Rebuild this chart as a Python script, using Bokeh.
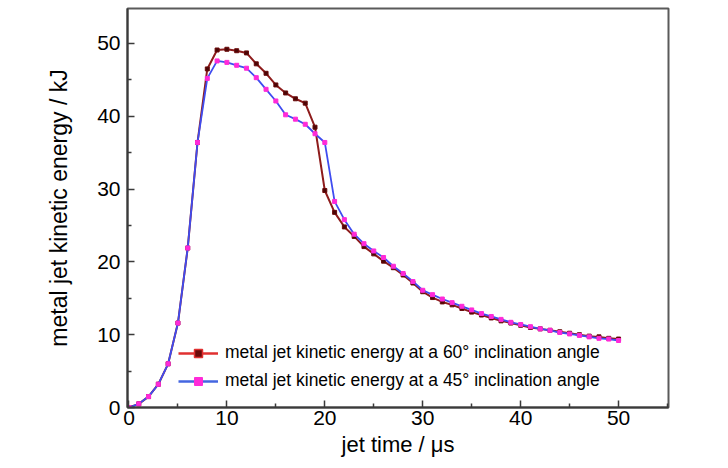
from bokeh.plotting import figure
from bokeh.models import Range1d, Legend, LegendItem, FixedTicker
from bokeh.embed import file_html
from bokeh.resources import INLINE

time_us = list(range(0, 51))
energy_60 = [0.0, 0.5, 1.5, 3.2, 6.0, 11.6, 21.9, 36.4, 46.5, 49.1,
             49.2, 49.0, 48.7, 47.2, 45.9, 44.3, 43.2, 42.4, 41.8, 38.5,
             29.8, 26.8, 24.8, 23.5, 22.1, 21.1, 20.1, 19.2, 18.2, 17.1,
             15.9, 15.1, 14.5, 14.1, 13.6, 13.1, 12.7, 12.3, 11.9, 11.6,
             11.3, 11.0, 10.8, 10.6, 10.4, 10.2, 10.0, 9.8, 9.7, 9.5, 9.4]
energy_45 = [0.0, 0.5, 1.5, 3.2, 6.0, 11.6, 21.9, 36.4, 45.2, 47.6,
             47.4, 47.0, 46.6, 45.3, 43.7, 42.1, 40.2, 39.6, 38.9, 37.6,
             36.4, 28.3, 25.8, 23.8, 22.5, 21.5, 20.6, 19.4, 18.4, 17.3,
             16.1, 15.5, 14.9, 14.4, 13.9, 13.4, 12.9, 12.5, 12.1, 11.7,
             11.4, 11.1, 10.8, 10.6, 10.3, 10.1, 9.9, 9.7, 9.5, 9.4, 9.2]
label_60 = "metal jet kinetic energy at a 60\u00b0 inclination angle"
label_45 = "metal jet kinetic energy at a 45\u00b0 inclination angle"
x_ticks = [0, 10, 20, 30, 40, 50]
y_ticks = [0, 10, 20, 30, 40, 50]

FONT = "Liberation Sans"
NAN = [float("nan")]

p = figure(frame_width=541, frame_height=399, output_backend="svg",
           toolbar_location=None,
           x_range=Range1d(-0.15, 55.1), y_range=Range1d(0, 54.8),
           min_border_left=127, min_border_top=8, min_border_right=52,
           min_border_bottom=53)
p.background_fill_color = "white"
p.border_fill_color = "white"
p.grid.visible = False
p.outline_line_color = "#5a5a5a"
p.outline_line_width = 2

for ax in (p.xaxis[0], p.yaxis[0]):
    ax.major_tick_in = 7
    ax.major_tick_out = 0
    ax.minor_tick_in = 4
    ax.minor_tick_out = 0
    ax.axis_line_color = "#3a3a3a"
    ax.axis_line_width = 2
    ax.major_tick_line_color = "#3a3a3a"
    ax.minor_tick_line_color = "#3a3a3a"
    ax.major_tick_line_width = 1.5
    ax.minor_tick_line_width = 1.5
    ax.major_label_text_font = FONT
    ax.major_label_text_font_size = "21px"
    ax.major_label_text_color = "black"
    ax.axis_label_text_font = FONT
    ax.axis_label_text_font_style = "normal"
    ax.axis_label_text_color = "black"

p.xaxis[0].ticker = FixedTicker(ticks=x_ticks, minor_ticks=[v + 5 for v in x_ticks])
p.yaxis[0].ticker = FixedTicker(ticks=y_ticks, minor_ticks=[v + 5 for v in y_ticks])
p.xaxis[0].axis_label = "jet time / \u03bcs"
p.yaxis[0].axis_label = "metal jet kinetic energy / kJ"
p.xaxis[0].axis_label_text_font_size = "22px"
p.yaxis[0].axis_label_text_font_size = "23px"
p.xaxis[0].major_label_standoff = 3
p.yaxis[0].major_label_standoff = 7
p.xaxis[0].axis_label_standoff = 4
p.yaxis[0].axis_label_standoff = 22

l60 = p.line(time_us, energy_60, line_color="#8e1c1c", line_width=2)
m60 = p.scatter(time_us, energy_60, marker="square", size=4,
                fill_color="#4a0606", line_color="#6a0a0a")
l45 = p.line(time_us, energy_45, line_color="#3f4cf0", line_width=1.8)
m45 = p.scatter(time_us, energy_45, marker="square", size=4,
                fill_color="#ff2ad8", line_color="#ff2ad8")

# legend-only glyph styles (single NaN point: nothing drawn in the plot)
lg60_line = p.line(NAN, NAN, line_color="#e03030", line_width=2.5)
lg60_mark = p.scatter(NAN, NAN, marker="square", size=9,
                      fill_color="#6a0a0a", line_color="#e03030", line_width=1.5)
lg45_line = p.line(NAN, NAN, line_color="#4466e0", line_width=2.5)
lg45_mark = p.scatter(NAN, NAN, marker="square", size=9,
                      fill_color="#ff2ad8", line_color="#ff2ad8")

legend = Legend(items=[LegendItem(label=label_60, renderers=[lg60_line, lg60_mark]),
                       LegendItem(label=label_45, renderers=[lg45_line, lg45_mark])],
                location=(51, 16), padding=0, margin=0, spacing=7,
                glyph_width=40, glyph_height=20, label_height=20,
                label_standoff=7, label_text_font=FONT,
                label_text_font_size="17.5px", label_text_color="black",
                border_line_color=None, background_fill_alpha=0)
p.add_layout(legend, "center")

open("out.html", "w").write(file_html(p, INLINE))
